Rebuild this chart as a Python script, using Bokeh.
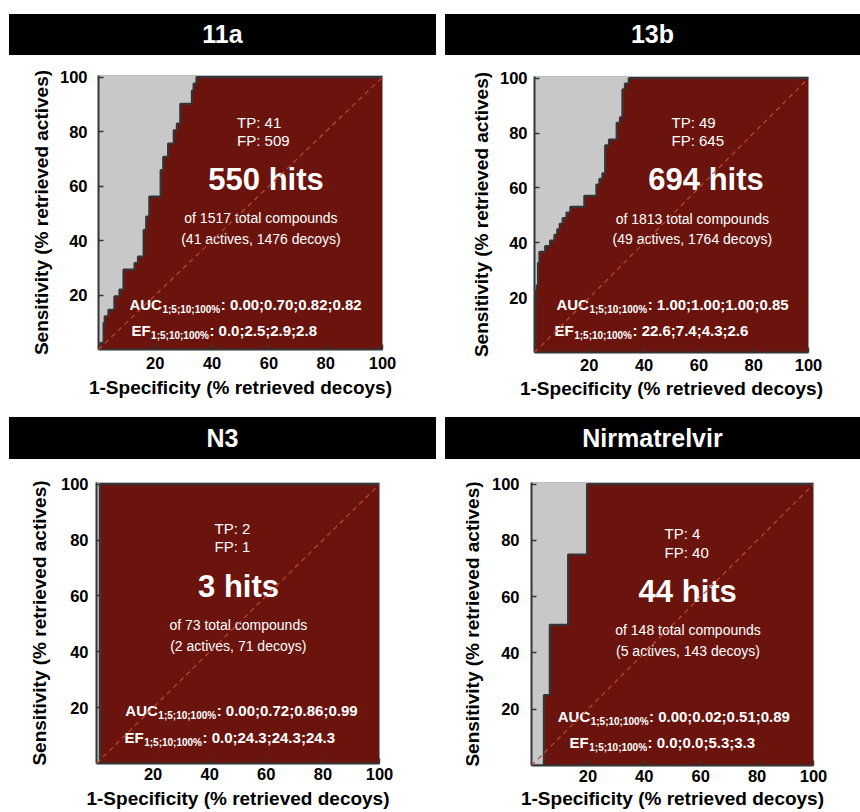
from bokeh.plotting import figure
from bokeh.layouts import column, row
from bokeh.models import Range1d, Slope, FixedTicker, Div
from bokeh.core.properties import value
from bokeh.embed import file_html
from bokeh.resources import INLINE

FONT = "Liberation Sans"

# ---------------- data ----------------
titles = ["11a", "13b", "N3", "Nirmatrelvir"]
true_pos = [41, 49, 2, 4]
false_pos = [509, 645, 1, 40]
total_compounds = [1517, 1813, 73, 148]
n_actives = [41, 49, 2, 5]
n_decoys = [1476, 1764, 71, 143]
auc_1_5_10_100 = [
    [0.00, 0.70, 0.82, 0.82],
    [1.00, 1.00, 1.00, 0.85],
    [0.00, 0.72, 0.86, 0.99],
    [0.00, 0.02, 0.51, 0.89],
]
ef_1_5_10_100 = [
    [0.0, 2.5, 2.9, 2.8],
    [22.6, 7.4, 4.3, 2.6],
    [0.0, 24.3, 24.3, 24.3],
    [0.0, 0.0, 5.3, 3.3],
]
tick_values = [20, 40, 60, 80, 100]

# ROC staircases: % decoys retrieved at which the curve rises, and the sensitivity reached there
roc_11a_fpr = [0, 0.6, 1.8, 2.2, 3.5, 5.6, 7.4, 8.8, 12.7, 13.9, 15.9, 16.8, 17.9,
               21.9, 22.8, 24.5, 26.5, 27.6, 28.8, 32.9, 33.5, 34.5, 100]
roc_11a_tpr = [0, 2.4, 9.8, 12.2, 14.6, 19.5, 22.0, 29.3, 31.7, 34.1, 43.9, 48.8, 56.1,
               65.9, 70.7, 75.6, 80.5, 82.9, 90.2, 95.1, 97.6, 100, 100]

roc_13b_fpr = [0, 0.3, 0.8, 1.3, 1.8, 3.9, 5.7, 7.3, 8.3, 9.2, 10.3, 11.7, 13.1, 18.2,
               22.6, 23.7, 24.8, 25.8, 27.2, 30.0, 31.2, 32.1, 33.0, 34.4, 100]
roc_13b_tpr = [0, 22.4, 24.5, 32.7, 36.7, 38.8, 40.8, 42.9, 44.9, 46.9, 49.0, 51.0, 53.1, 57.1,
               61.2, 63.3, 65.3, 75.5, 77.6, 83.7, 85.7, 95.9, 98.0, 100, 100]

roc_n3_fpr = [0, 1.2, 100]
roc_n3_tpr = [0, 100, 100]

roc_nirmatrelvir_fpr = [0, 4.4, 6.5, 13.0, 19.7, 100]
roc_nirmatrelvir_tpr = [0, 25, 50, 75, 100, 100]

roc_fpr = [roc_11a_fpr, roc_13b_fpr, roc_n3_fpr, roc_nirmatrelvir_fpr]
roc_tpr = [roc_11a_tpr, roc_13b_tpr, roc_n3_tpr, roc_nirmatrelvir_tpr]

# ---------------- styling / layout ----------------
GRAY = "#c8c8c8"
RED = "#6b140e"
CURVE = "#353535"
DIAG = "#c0462f"

# per panel: cell width, header bar (width, height, margins), plot height,
# plot borders (left, right, top, bottom), axis standoffs, annotation anchors (data units)
LAYOUT = [
    dict(w=440, hw=427, hh=41, hm=(14, 4, 0, 9), ph=355, bl=98, br=58, bt=20, bb=61,
         xls=7, xts=5, yls=11, yts=5,
         tp=(48.8, 83.3), fp_y=76.9, hits=(59.0, 62.3), of=(57.2, 48.1), act_y=40.4,
         auc=(10.9, 16.7), ef=(11.6, 6.9)),
    dict(w=420, hw=415, hh=41, hm=(14, 0, 0, 5), ph=355, bl=94, br=52, bt=21, bb=58,
         xls=6, xts=4, yls=7, yts=5,
         tp=(50.0, 83.8), fp_y=77.1, hits=(62.6, 62.9), of=(57.6, 48.8), act_y=41.2,
         auc=(8.0, 17.6), ef=(7.3, 8.0)),
    dict(w=440, hw=427, hh=42, hm=(7, 4, 0, 9), ph=353, bl=96, br=61, bt=23, bb=49,
         xls=4, xts=5, yls=8, yts=8,
         tp=(41.7, 84.1), fp_y=77.6, hits=(50.2, 63.3), of=(50.1, 49.7), act_y=41.9,
         auc=(10.2, 18.9), ef=(9.9, 9.4)),
    dict(w=420, hw=415, hh=42, hm=(7, 0, 0, 5), ph=353, bl=91, br=47, bt=23, bb=47,
         xls=4, xts=3, yls=12, yts=6,
         tp=(47.2, 82.4), fp_y=75.7, hits=(55.4, 61.8), of=(55.5, 48.3), act_y=40.6,
         auc=(9.3, 17.3), ef=(13.5, 8.2)),
]

# Arial / Liberation Sans Bold advance widths (1/1000 em) for the metric strings
BOLD_WIDTHS = {"A": 722, "U": 722, "C": 722, "E": 667, "F": 611, ";": 333, "%": 889,
               ":": 333, ".": 278, " ": 278}
BOLD_WIDTHS.update({d: 556 for d in "0123456789"})


def bold_width(s, px):
    return sum(BOLD_WIDTHS[c] for c in s) * px / 1000.0


def header(title, L):
    return Div(text=title, width=L["hw"], height=L["hh"], margin=L["hm"],
               styles={"background-color": "black", "color": "white",
                       "font-family": FONT, "font-weight": "bold", "font-size": "25px",
                       "text-align": "center", "line-height": f"{L['hh']}px",
                       "display": "block"})


def metric_line(p, x, y, name, vals, fmt):
    sub = "1;5;10;100%"
    rest = ": " + ";".join(fmt.format(v) for v in vals)
    w_name = bold_width(name, 15)
    w_sub = bold_width(sub, 10)
    common = dict(text_font=value(FONT), text_font_style="bold", text_color="white",
                  text_align="left", text_baseline="middle")
    p.text(x=[x], y=[y], text=[name], text_font_size=value("15px"), **common)
    p.text(x=[x], y=[y], text=[sub], x_offset=w_name + 0.5, y_offset=5,
           text_font_size=value("10px"), **common)
    p.text(x=[x], y=[y], text=[rest], x_offset=w_name + w_sub + 1,
           text_font_size=value("15px"), **common)


def roc_panel(i, L):
    p = figure(width=L["w"], height=L["ph"], x_range=Range1d(0, 100), y_range=Range1d(0, 100.6),
               toolbar_location=None, output_backend="svg",
               min_border_left=L["bl"], min_border_right=L["br"],
               min_border_top=L["bt"], min_border_bottom=L["bb"],
               background_fill_color=GRAY, border_fill_color="white",
               outline_line_color="#bdbdbd", outline_line_width=1)
    p.grid.visible = False

    fpr, tpr = roc_fpr[i], roc_tpr[i]
    p.varea_step(x=fpr, y1=[0] * len(fpr), y2=tpr, step_mode="after", fill_color=RED)
    p.step(x=fpr, y=tpr, mode="after", line_color=CURVE, line_width=2.2)
    p.add_layout(Slope(gradient=1, y_intercept=0, line_color=DIAG, line_width=1.2,
                       line_dash="5 4"))

    for ax, ls, ts in ((p.xaxis, L["xls"], L["xts"]), (p.yaxis, L["yls"], L["yts"])):
        ax.ticker = FixedTicker(ticks=tick_values)
        ax.minor_tick_line_color = None
        ax.major_tick_in = 5
        ax.major_tick_out = 0
        ax.major_tick_line_color = CURVE
        ax.major_tick_line_width = 1.5
        ax.axis_line_color = CURVE
        ax.axis_line_width = 2
        ax.major_label_text_font = FONT
        ax.major_label_text_font_style = "bold"
        ax.major_label_text_font_size = "16.5px"
        ax.major_label_text_color = "black"
        ax.major_label_standoff = ls
        ax.axis_label_text_font = FONT
        ax.axis_label_text_font_style = "bold"
        ax.axis_label_text_font_size = "19px"
        ax.axis_label_text_color = "black"
        ax.axis_label_standoff = ts
    p.xaxis.axis_label = "1-Specificity (% retrieved decoys)"
    p.yaxis.axis_label = "Sensitivity (% retrieved actives)"

    white = dict(text_font=value(FONT), text_color="white")
    tx, ty = L["tp"]
    p.text(x=[tx], y=[ty], text=[f"TP: {true_pos[i]}"], text_align="left",
           text_baseline="middle", text_font_size=value("15px"), **white)
    p.text(x=[tx], y=[L["fp_y"]], text=[f"FP: {false_pos[i]}"], text_align="left",
           text_baseline="middle", text_font_size=value("15px"), **white)
    hx, hy = L["hits"]
    p.text(x=[hx], y=[hy], text=[f"{true_pos[i] + false_pos[i]} hits"], text_align="center",
           text_baseline="middle", text_font_size=value("31px"), text_font_style="bold", **white)
    ox, oy = L["of"]
    p.text(x=[ox], y=[oy], text=[f"of {total_compounds[i]} total compounds"],
           text_align="center", text_baseline="middle", text_font_size=value("14px"), **white)
    p.text(x=[ox], y=[L["act_y"]], text=[f"({n_actives[i]} actives, {n_decoys[i]} decoys)"],
           text_align="center", text_baseline="middle", text_font_size=value("14px"), **white)

    metric_line(p, L["auc"][0], L["auc"][1], "AUC", auc_1_5_10_100[i], "{:.2f}")
    metric_line(p, L["ef"][0], L["ef"][1], "EF", ef_1_5_10_100[i], "{:.1f}")
    return p


cells = [column(header(titles[i], LAYOUT[i]), roc_panel(i, LAYOUT[i]), spacing=0)
         for i in range(4)]
page = column(row(cells[0], cells[1], spacing=0), row(cells[2], cells[3], spacing=0), spacing=0)

open("out.html", "w").write(file_html(page, INLINE, title="ROC curves"))
